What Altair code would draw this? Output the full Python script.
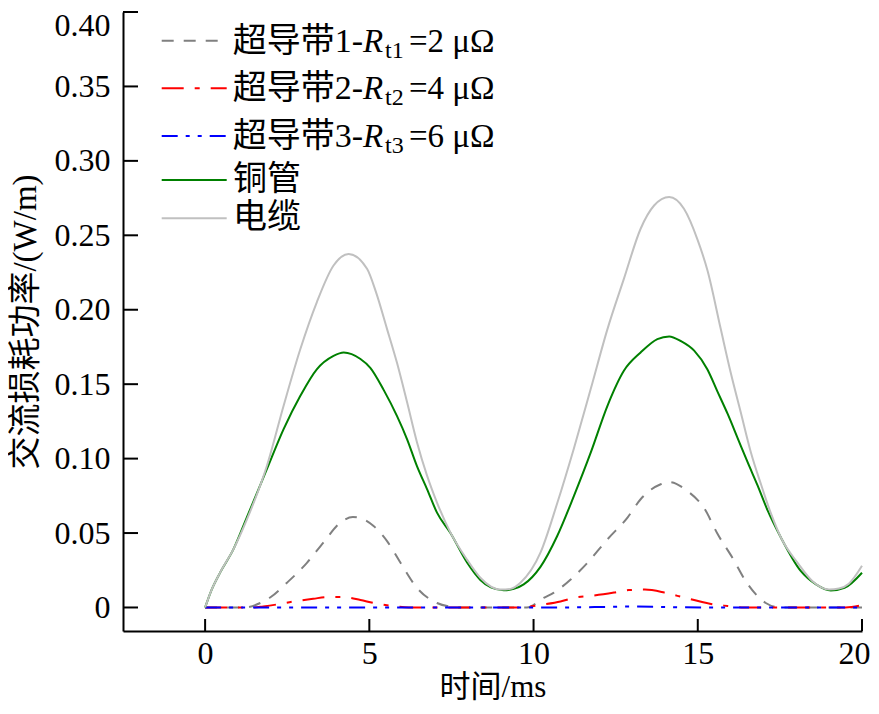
import altair as alt
import pandas as pd

# ---------------- data ----------------
t_cable = [0, 0.2, 0.46, 0.86, 1.27, 1.88, 2.39, 2.9, 3.4, 3.91, 4.37, 4.93, 5.2, 5.54, 5.84, 6.15,
           6.45, 6.76, 7.06, 7.47, 7.98, 8.38, 8.99, 9.3, 9.6, 10.21, 10.72, 11.23, 11.74, 12.25,
           12.75, 13.26, 13.67, 14.13, 14.58, 15.0, 15.3, 15.7, 16.0, 16.31, 16.62, 16.92, 17.23,
           17.53, 18.04, 18.5, 19.0, 19.3, 19.6, 20.0]
v_cable = [0, 0.012, 0.0236, 0.039, 0.059, 0.095, 0.1355, 0.1736, 0.205, 0.2297, 0.2375, 0.2275,
           0.212, 0.187, 0.1645, 0.1378, 0.111, 0.0884, 0.0705, 0.0503, 0.032, 0.020, 0.0121,
           0.0125, 0.0166, 0.0368, 0.070, 0.107, 0.1467, 0.187, 0.2207, 0.2544, 0.270, 0.2757,
           0.2678, 0.2466, 0.226, 0.187, 0.158, 0.131, 0.104, 0.083, 0.063, 0.047, 0.030, 0.0175,
           0.0121, 0.0128, 0.016, 0.028]

t_copper = [0, 0.2, 0.46, 0.86, 1.27, 1.88, 2.39, 2.9, 3.4, 3.91, 4.22, 4.73, 5.03, 5.44, 5.84,
            6.15, 6.45, 6.76, 7.06, 7.47, 7.98, 8.38, 8.7, 9.09, 9.4, 9.7, 10.21, 10.72, 11.23,
            11.74, 12.25, 12.75, 13.26, 13.77, 14.13, 14.48, 14.89, 15.29, 15.6, 15.91, 16.21,
            16.52, 16.82, 17.13, 17.53, 18.14, 18.6, 19.05, 19.47, 20.0]
v_copper = [0, 0.012, 0.0236, 0.039, 0.0605, 0.0929, 0.1198, 0.1422, 0.160, 0.169, 0.1713, 0.1669,
            0.161, 0.146, 0.1287, 0.113, 0.095, 0.0794, 0.0637, 0.050, 0.030, 0.0185, 0.0135,
            0.0116, 0.0125, 0.0155, 0.0273, 0.048, 0.075, 0.104, 0.1355, 0.159, 0.1713, 0.1803,
            0.1821, 0.179, 0.1725, 0.160, 0.145, 0.130, 0.114, 0.0974, 0.082, 0.065, 0.047,
            0.0244, 0.0155, 0.0114, 0.0132, 0.0233]

t_sc1 = [0, 1.2, 1.68, 1.98, 2.49, 3.1, 3.6, 4.12, 4.5, 4.83, 5.13, 5.54, 5.95, 6.45, 7.06, 7.4,
         7.8, 9.8, 10.31, 10.62, 11.13, 11.64, 12.25, 12.86, 13.26, 13.87, 14.13, 14.68, 15.2,
         15.6, 16.08, 16.46, 17.07, 17.5, 20]
v_sc1 = [0, 0, 0.003, 0.0067, 0.0166, 0.030, 0.0436, 0.057, 0.0608, 0.0592, 0.0547, 0.0446, 0.030,
         0.0132, 0.003, 0.0008, 0, 0, 0.0065, 0.010, 0.0188, 0.030, 0.0458, 0.0604, 0.0727, 0.0828,
         0.0843, 0.0783, 0.0665, 0.0495, 0.0325, 0.0177, 0.003, 0, 0]

t_sc2 = [0, 1.5, 1.77, 2.18, 2.69, 3.29, 3.71, 4.2, 4.73, 5.13, 5.73, 6.2, 9.5, 10.0, 10.31, 10.82,
         11.23, 11.84, 12.45, 12.9, 13.39, 13.98, 14.38, 14.89, 15.5, 15.91, 16.4, 19.5, 20]
v_sc2 = [0, 0, 0.0007, 0.002, 0.004, 0.0058, 0.007, 0.007, 0.005, 0.003, 0.001, 0, 0, 0.001, 0.002,
         0.004, 0.0065, 0.008, 0.010, 0.0117, 0.012, 0.010, 0.0078, 0.005, 0.002, 0.001, 0, 0, 0.0015]

t_sc3 = [0, 10.5, 12, 13, 14, 15.5, 20]
v_sc3 = [0, 0, 0.0003, 0.0006, 0.0003, 0, 0]

x_tick_values = [0, 5, 10, 15, 20]
y_tick_values = [0, 0.05, 0.10, 0.15, 0.20, 0.25, 0.30, 0.35, 0.40]

legend_prefix = ["超导带1-", "超导带2-", "超导带3-"]
legend_sub = ["t1", "t2", "t3"]
legend_suffix = ["=2 μΩ", "=4 μΩ", "=6 μΩ"]
legend_plain = ["铜管", "电缆"]

x_title = "时间/ms"
y_title = "交流损耗功率/(W/m)"

# ---------------- style ----------------
W, H = 739, 619
FONT = "Liberation Serif, Noto Sans CJK SC"
x_scale = alt.Scale(domain=[-2.5, 20], nice=False, zero=False)
y_scale = alt.Scale(domain=[-0.0158, 0.40], nice=False, zero=False)

colors = ["#808080", "#ff0000", "#0000ff", "#008000", "#c0c0c0"]
dashes = [[12, 10], [22, 11, 5, 11], [16, 8, 4, 8, 4, 8], None, None]

x_axis = alt.Axis(values=x_tick_values, format="d", title=x_title, ticks=False, grid=False,
                  domainColor="black", domainWidth=2, labelFont=FONT, labelFontSize=32,
                  labelColor="black", labelPadding=7, labelFlush=True, labelFlushOffset=8,
                  titleFont=FONT, titleFontSize=31,
                  titleFontWeight="normal", titleColor="black", titlePadding=3)
y_axis = alt.Axis(values=y_tick_values, title=y_title, ticks=False, grid=False,
                  labelExpr="datum.value == 0 ? '0' : format(datum.value, '.2f')",
                  domainColor="black", domainWidth=2, labelFont=FONT, labelFontSize=32,
                  labelColor="black", labelPadding=13, labelFlush=True, labelFlushOffset=2,
                  titleFont=FONT, titleFontSize=33,
                  titleFontWeight="normal", titleColor="black", titlePadding=12)

series = [(t_sc1, v_sc1), (t_sc2, v_sc2), (t_sc3, v_sc3), (t_copper, v_copper), (t_cable, v_cable)]

layers = []
for k, ((ts, vs), c, d) in enumerate(zip(series, colors, dashes)):
    kw = dict(color=c, strokeWidth=2, interpolate="monotone")
    if d is not None:
        kw["strokeDash"] = d
    layers.append(alt.Chart(pd.DataFrame({"t": ts, "v": vs})).mark_line(**kw).encode(
        x=alt.X("t:Q", scale=x_scale, axis=x_axis),
        y=alt.Y("v:Q", scale=y_scale, axis=y_axis)))

# inward ticks
layers.append(alt.Chart(pd.DataFrame({"v": y_tick_values})).mark_rule(color="black", strokeWidth=2).encode(
    y=alt.Y("v:Q", scale=y_scale, axis=y_axis), x=alt.value(0), x2=alt.value(15)))
layers.append(alt.Chart(pd.DataFrame({"t": x_tick_values})).mark_rule(color="black", strokeWidth=2).encode(
    x=alt.X("t:Q", scale=x_scale, axis=x_axis), y=alt.value(H), y2=alt.value(H - 12)))

# manual legend
row_y = [28.7, 76.3, 124, 168, 206.3]
dummy = pd.DataFrame({"a": [0]})
LF = 33
for i in range(5):
    kw = dict(color=colors[i], strokeWidth=2)
    if dashes[i] is not None:
        kw["strokeDash"] = dashes[i]
    layers.append(alt.Chart(dummy).mark_rule(**kw).encode(
        x=alt.value(38.7), x2=alt.value(103.7), y=alt.value(row_y[i])))
for i in range(3):
    base = row_y[i] + 11
    layers.append(alt.Chart(dummy).mark_text(text=legend_prefix[i], align="right", baseline="alphabetic",
                  font=FONT, fontSize=34, color="black").encode(x=alt.value(240), y=alt.value(base)))
    layers.append(alt.Chart(dummy).mark_text(text="R", align="left", baseline="alphabetic",
                  font=FONT, fontSize=LF, fontStyle="italic", color="black").encode(x=alt.value(240), y=alt.value(base)))
    layers.append(alt.Chart(dummy).mark_text(text=legend_sub[i], align="left", baseline="alphabetic",
                  font=FONT, fontSize=24, color="black").encode(x=alt.value(262), y=alt.value(base + 6)))
    layers.append(alt.Chart(dummy).mark_text(text=legend_suffix[i], align="left", baseline="alphabetic",
                  font=FONT, fontSize=LF, color="black").encode(x=alt.value(286), y=alt.value(base)))
for j in range(2):
    layers.append(alt.Chart(dummy).mark_text(text=legend_plain[j], align="left", baseline="middle",
                  font=FONT, fontSize=34, color="black").encode(x=alt.value(110), y=alt.value(row_y[3 + j])))

chart = alt.layer(*layers).properties(
    width=W, height=H,
    padding={"left": 115, "top": 4, "right": 9, "bottom": 75},
    autosize=alt.AutoSizeParams(type="none"),
).configure_view(stroke=None)

chart.save("out.html", embed_options={"renderer": "svg", "actions": False})
